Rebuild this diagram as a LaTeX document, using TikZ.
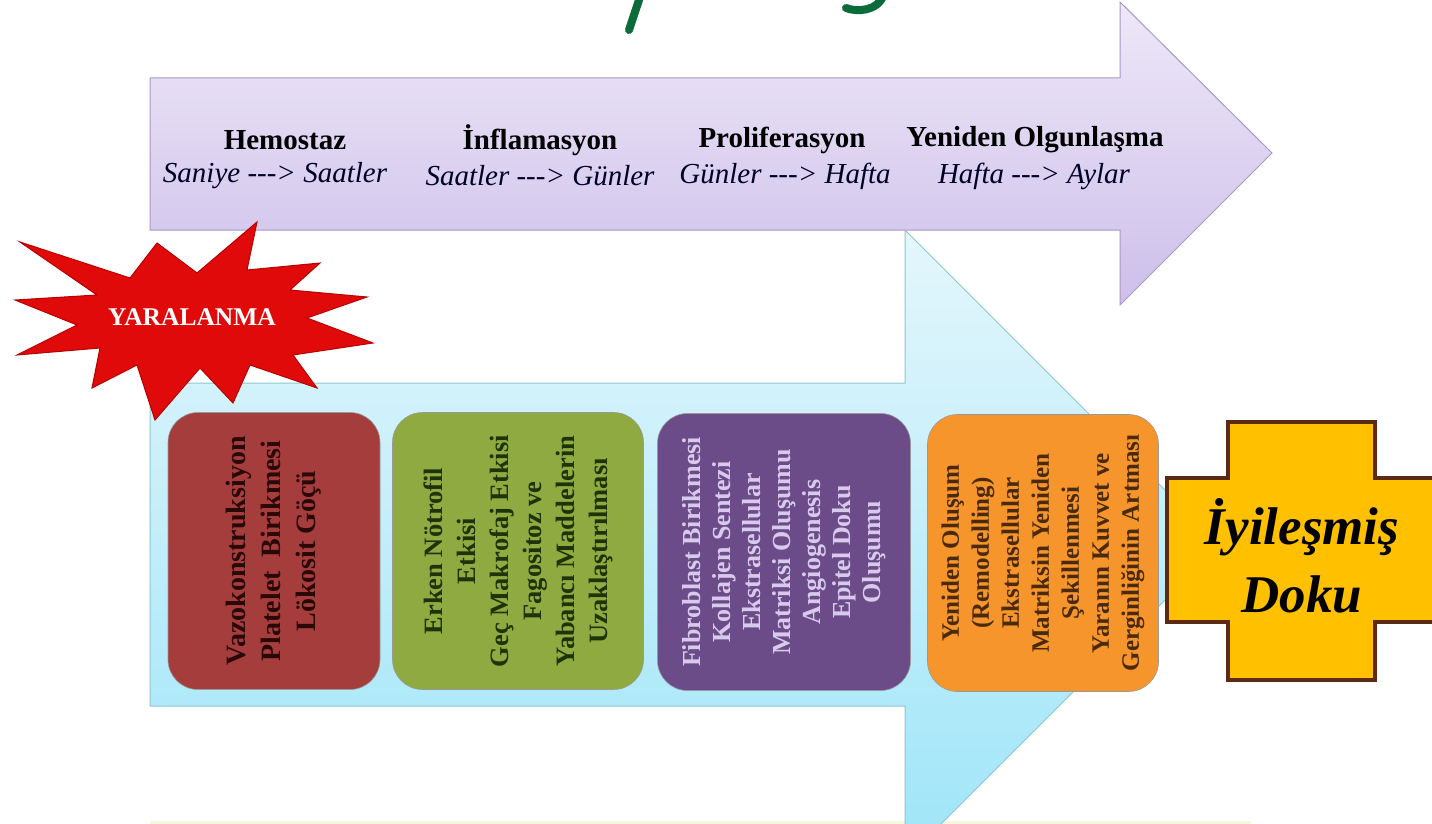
\documentclass[tikz,border=0pt]{standalone}
\usepackage{fontspec}
\setmainfont{Liberation Serif}
\newcommand\longarr{\mbox{-}\mbox{-}\mbox{-}\mbox{>}}
\definecolor{purpTop}{HTML}{EEE8F8}
\definecolor{purpBot}{HTML}{CDBFEA}
\definecolor{purpLine}{HTML}{A898C8}
\definecolor{cyanTop}{HTML}{E4F6FC}
\definecolor{cyanBot}{HTML}{9EE5F8}
\definecolor{cyanLine}{HTML}{8CC6D6}
\definecolor{starRed}{HTML}{E10A0A}
\definecolor{starEdge}{HTML}{B80000}
\definecolor{boxRed}{HTML}{A43D3C}
\definecolor{boxGreen}{HTML}{8EAA40}
\definecolor{boxPurple}{HTML}{6B4C88}
\definecolor{boxOrange}{HTML}{F7952D}
\definecolor{txtRed}{HTML}{2A0808}
\definecolor{txtGreen}{HTML}{1F3309}
\definecolor{txtPurple}{HTML}{D8CAEC}
\definecolor{txtOrange}{HTML}{4A2A0A}
\definecolor{plusFill}{HTML}{FFC000}
\definecolor{plusLine}{HTML}{5C2A12}
\definecolor{titleGreen}{HTML}{0B6B3A}
\definecolor{baseYellow}{HTML}{F8F6DC}
\tikzset{
  phasebox/.style={rounded corners=30pt, draw=white!60!black, line width=0.6pt,
    rotate=90, minimum width=277pt, minimum height=212pt, inner sep=0pt, align=center},
  phasehead/.style={font=\fontsize{29}{34}\selectfont\bfseries, text=black},
  phasetime/.style={font=\fontsize{29}{34}\selectfont\itshape, text=black!85!blue},
  titlestroke/.style={draw=titleGreen, line width=8pt, line cap=round},
}
\begin{document}
\begin{tikzpicture}[x=1pt,y=-1pt]
\useasboundingbox (0,0) rectangle (1432,824);
\clip (0,0) rectangle (1432,824);
\fill[white] (0,0) rectangle (1432,824);

% title fragments
\draw[titlestroke] (641,-6) -- (629,30);
\draw[titlestroke] (884,-6) .. controls (878,12) and (856,12) .. (846,8);

% bottom faint line
\fill[baseYellow] (150,821) rectangle (1251,830);

% cyan arrow
\shadedraw[top color=cyanTop, bottom color=cyanBot, draw=cyanLine, line width=1pt]
  (150,383) -- (905,383) -- (905,230) -- (1220,545) -- (905,860) -- (905,706) -- (150,706) -- cycle;

% purple arrow
\shadedraw[top color=purpTop, bottom color=purpBot, draw=purpLine, line width=1pt]
  (150,78) -- (1120,78) -- (1120,2) -- (1272,153) -- (1120,305) -- (1120,230) -- (150,230) -- cycle;

\node[phasehead] (h1) at (285,140) {Hemostaz};
\node[phasetime] (t1) at (275,176) {Saniye \longarr{} Saatler};
\node[phasehead] (h2) at (540,140) {İnflamasyon};
\node[phasetime] (t2) at (540,176) {Saatler \longarr{} Günler};
\node[phasehead] (h3) at (782,140) {Proliferasyon};
\node[phasetime] (t3) at (785,176) {Günler \longarr{} Hafta};
\node[phasehead] (h4) at (1035,140) {Yeniden Olgunlaşma};
\node[phasetime] (t4) at (1034,176) {Hafta \longarr{} Aylar};

% boxes
\node[phasebox, fill=boxRed, text=txtRed, font=\fontsize{28}{35}\selectfont\bfseries]
  (b1) at (274,551) {Vazokonstruksiyon\\Platelet\ \ Birikmesi\\Lökosit Göçü};
\node[phasebox, fill=boxGreen, text=txtGreen, minimum height=251pt, font=\fontsize{26.5}{33}\selectfont\bfseries]
  (b2) at (518,551) {Erken Nötrofil\\Etkisi\\Geç Makrofaj Etkisi\\Fagositoz ve\\Yabancı Maddelerin\\Uzaklaştırılması};
\node[phasebox, fill=boxPurple, text=txtPurple, minimum height=253pt, font=\fontsize{26}{30}\selectfont\bfseries]
  (b3) at (784,552) {Fibroblast Birikmesi\\Kollajen Sentezi\\Ekstrasellular\\Matriksi Oluşumu\\Angiogenesis\\Epitel Doku\\Oluşumu};
\node[phasebox, fill=boxOrange, text=txtOrange, minimum height=231pt, font=\fontsize{25}{30}\selectfont\bfseries]
  (b4) at (1043,553) {Yeniden Oluşum\\(Remodelling)\\Ekstrasellular\\Matriksin Yeniden\\Şekillenmesi\\Yaranın Kuvvet ve\\Gerginliğinin Artması};

% plus shape
\filldraw[fill=plusFill, draw=plusLine, line width=4pt, line join=miter]
  (1228,422) -- (1375,422) -- (1375,478) -- (1445,478) -- (1445,622) -- (1375,622) -- (1375,680)
  -- (1228,680) -- (1228,622) -- (1167,622) -- (1167,478) -- (1228,478) -- cycle;
\node[font=\fontsize{53}{68}\selectfont\bfseries\itshape, align=center, text=black]
  (heal) at (1302,556) {İyileşmiş\\Doku};

% star
\filldraw[fill=starRed, draw=starEdge, line width=1pt, line join=miter]
  (257,222) -- (247,270) -- (320,263) -- (290,290) -- (367,297) -- (307,318) -- (373,343)
  -- (293,355) -- (317,388) -- (250,365) -- (233,403) -- (200,368) -- (155,420) -- (137,365)
  -- (92,388) -- (100,348) -- (17,355) -- (77,325) -- (15,300) -- (97,295) -- (20,242)
  -- (130,278) -- (157,243) -- (197,273) -- cycle;
\node[font=\fontsize{25.5}{30}\selectfont\bfseries, text=white] (yara) at (192,317) {YARALANMA};
\end{tikzpicture}
\end{document}
